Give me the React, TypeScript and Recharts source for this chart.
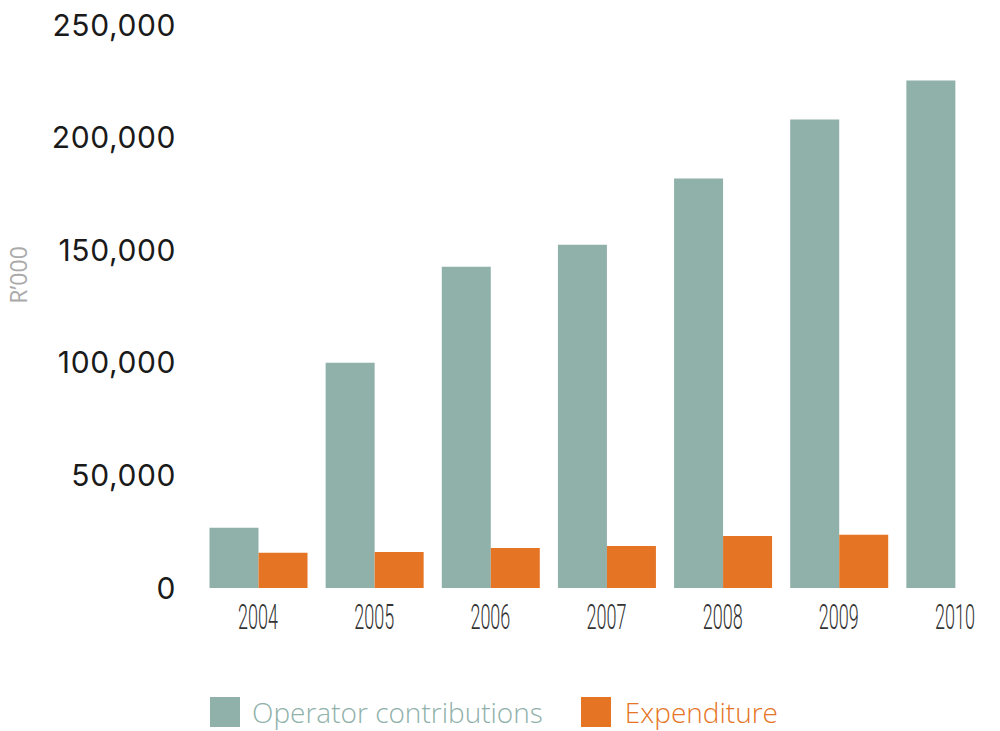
import React from "react";
import { BarChart, Bar, XAxis, YAxis } from "recharts";

const years = ["2004", "2005", "2006", "2007", "2008", "2009", "2010"];
const operatorContributions = [26700, 100000, 142700, 152400, 181800, 208000, 225300];
const expenditure: (number | null)[] = [15600, 16000, 17800, 18700, 23100, 23600, null];
const yTicks = [0, 50000, 100000, 150000, 200000, 250000];

const TEAL = "#8fb1aa";
const ORANGE = "#e57425";

const data = years.map((y, i) => ({
  year: y,
  op: operatorContributions[i],
  exp: expenditure[i],
}));

const fmt = (v: number) => v.toLocaleString("en-US");

const XTick = (props: any) => {
  const { x, y, payload } = props;
  return (
    <g transform={`translate(${x},${y})`}>
      <text
        transform="scale(0.5,1)"
        textAnchor="middle"
        dy={33}
        fontFamily="Roboto, 'DejaVu Sans', sans-serif"
        fontWeight={300}
        fontSize={36}
        fill="#333"
      >
        {payload.value}
      </text>
    </g>
  );
};

const LegendContent = () => (
  <div style={{ display: "flex", alignItems: "center", height: 36, fontFamily: "'Open Sans', sans-serif", fontSize: 28, fontWeight: 300, lineHeight: "36px" }}>
    <div style={{ width: 30, height: 30, background: TEAL, marginRight: 12 }} />
    <span style={{ color: TEAL, marginRight: 38 }}>Operator contributions</span>
    <div style={{ width: 30, height: 30, background: ORANGE, marginRight: 14 }} />
    <span style={{ color: ORANGE }}>Expenditure</span>
  </div>
);

export default function App() {
  return (
    <div style={{ position: "absolute", left: 0, top: 0, width: 1000, height: 731, overflow: "hidden", background: "#fff" }}>
      <BarChart
        width={1013}
        height={731}
        data={data}
        margin={{ top: 25, right: 0, bottom: 103, left: 0 }}
        barCategoryGap={9.5}
        barGap={0}
      >
        <XAxis
          dataKey="year"
          axisLine={false}
          tickLine={false}
          tick={<XTick />}
          interval={0}
          height={40}
        />
        <YAxis
          width={200}
          domain={[0, 250000]}
          ticks={yTicks}
          axisLine={false}
          tickLine={false}
          tickSize={0}
          tickMargin={24}
          tickFormatter={fmt}
          tick={{ fontFamily: "Inter, 'Open Sans', sans-serif", fontSize: 30, letterSpacing: 0.6, fill: "#1a1a1a" }}
          label={{
            content: (p: any) => (
              <text
                transform={`translate(${(p.viewBox?.x ?? 0) + 27},275) rotate(-90)`}
                textAnchor="middle"
                fontFamily="'Open Sans', sans-serif"
                fontSize={23}
                fill="#aaa"
              >
                R’000
              </text>
            ),
          }}
        />
        <Bar dataKey="op" fill={TEAL} isAnimationActive={false} />
        <Bar dataKey="exp" fill={ORANGE} isAnimationActive={false} />
        <foreignObject x={210} y={694} width={760} height={36} style={{ overflow: "visible" }}>
          <LegendContent />
        </foreignObject>
      </BarChart>
    </div>
  );
}
